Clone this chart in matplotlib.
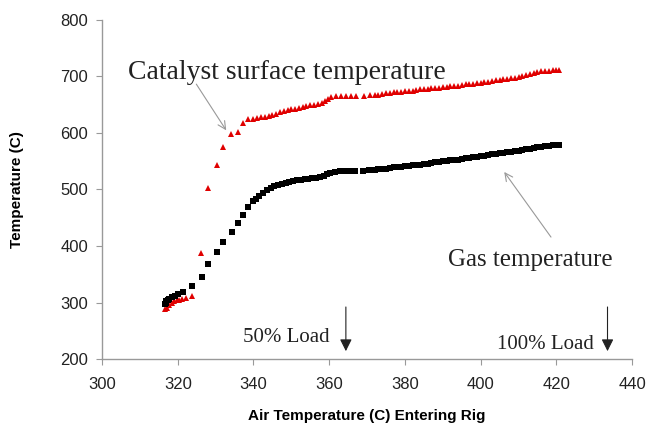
import matplotlib
matplotlib.use("Agg")
import matplotlib.pyplot as plt

# catalyst surface temperature (red triangles)
cat_x = [316.6, 317.1, 317.6, 318.4, 319.0, 319.7, 320.4, 321.0, 322.3, 323.7,
         326.1, 328.0, 330.3, 332.0, 334.0, 336.0, 337.3, 338.6, 339.9,
         341, 342, 343, 344, 345, 346, 347, 348, 349, 350, 351, 352, 353, 354,
         355, 356, 357, 358, 359, 359.7, 360.5,
         361.8, 363.1, 364.4, 365.7, 367.0, 369.2, 370.8,
         372, 373, 374, 375, 376, 377, 378, 379, 380, 381, 382, 383, 384, 385,
         386, 387, 388, 389, 390, 391, 392, 393, 394, 395, 396, 397, 398, 399,
         400, 401, 402, 403, 404, 405, 406, 407, 408, 409, 410, 411, 412, 413,
         414, 415, 416, 417, 418, 419, 420, 420.8]
cat_t = [288, 291, 295, 299, 302, 304, 305, 306, 308, 311,
         388, 503, 543, 576, 599, 602, 618, 625, 625,
         627, 628, 629, 630, 632, 634, 637, 639, 640, 642, 643, 645, 646, 647,
         649, 650, 651, 653, 656, 661, 664,
         665, 665, 665, 666, 666, 666, 667,
         668, 668, 669, 670, 671, 672, 673, 673, 674, 675, 675, 676, 677, 677,
         678, 679, 680, 680, 681, 682, 683, 683, 684, 685, 686, 686, 687, 688,
         689, 690, 691, 692, 693, 694, 695, 696, 697, 698, 699, 701, 703, 705,
         707, 708, 709, 709, 710, 711, 711, 712]

# gas temperature (black squares)
gas_x = [316.6, 316.8, 317.0, 317.3, 317.8, 318.4, 319.2, 320.0, 321.5, 323.7,
         326.3, 328.0, 330.3, 332.0, 334.2, 336.0, 337.3, 338.6, 339.8,
         340.6, 341.5, 342.5, 343.5, 344.5, 345.5, 346.5, 347.5, 348.5, 349.5,
         350.5, 351.5, 352.5, 353.5, 354.5, 355.5, 356.5, 357.5, 358.5, 359.5,
         360.3,
         361.6, 362.9, 364.2, 365.5, 366.8, 369.0, 370.6,
         372, 373, 374, 375, 376, 377, 378, 379, 380, 381, 382, 383, 384, 385,
         386, 387, 388, 389, 390, 391, 392, 393, 394, 395, 396, 397, 398, 399,
         400, 401, 402, 403, 404, 405, 406, 407, 408, 409, 410, 411, 412, 413,
         414, 415, 416, 417, 418, 419, 420, 420.8]
gas_t = [297, 300, 302, 305, 307, 309, 312, 315, 319, 329,
         346, 369, 389, 407, 425, 441, 454, 469, 479,
         484, 489, 494, 499, 503, 506, 508, 510, 512, 514,
         515, 516, 517, 518, 519, 520, 521, 522, 524, 527,
         529,
         531, 532, 532, 533, 533, 533, 534,
         535, 536, 537, 537, 538, 539, 539, 540, 541, 542, 543, 544, 544, 545,
         546, 547, 548, 549, 550, 551, 552, 552, 553, 554, 555, 556, 557, 558,
         559, 560, 561, 562, 563, 564, 565, 566, 567, 568, 569, 570, 571, 572,
         574, 575, 576, 577, 577, 578, 578, 579]

load_x = [364.4, 433.5]
load_labels = ["50% Load", "100% Load"]

fig = plt.figure(figsize=(6.47, 4.44), dpi=100)
ax = fig.add_axes([0.1577, 0.1914, 0.8193, 0.7636])

ax.plot(cat_x, cat_t, linestyle="none", marker="^", markersize=5.0,
        color="#e00000", markeredgewidth=0)
ax.plot(gas_x, gas_t, linestyle="none", marker="s", markersize=4.6,
        color="black", markeredgewidth=0)

ax.set_xlim(300, 440)
ax.set_ylim(200, 800)
ax.set_xticks(range(300, 441, 20))
ax.set_yticks(range(200, 801, 100))

for s in ["top", "right"]:
    ax.spines[s].set_visible(False)
for s in ["left", "bottom"]:
    ax.spines[s].set_color("#999999")
    ax.spines[s].set_linewidth(1.0)
ax.tick_params(colors="#999999", labelcolor="#222222", length=4,
               labelsize=12, pad=6)
ax.tick_params(axis="x", pad=9)
for lab in ax.get_xticklabels() + ax.get_yticklabels():
    lab.set_family("Liberation Sans")

ax.set_xlabel("Air Temperature (C) Entering Rig", family="Liberation Sans",
              fontweight="bold", fontsize=11, labelpad=12)
ax.set_ylabel("Temperature (C)", family="Liberation Sans",
              fontweight="bold", fontsize=11, labelpad=26)

serif = "Liberation Serif"
ax.text(306.9, 695.4, "Catalyst surface temperature", family=serif,
        fontsize=20, color="#222222", va="baseline", ha="left")
ax.annotate("", xy=(333.2, 600.6), xytext=(324.5, 690.6),
            arrowprops=dict(arrowstyle="->", color="#999999", lw=0.8,
                            mutation_scale=14))

ax.text(391.3, 364.7, "Gas temperature", family=serif, fontsize=18,
        color="#222222", va="baseline", ha="left")
ax.annotate("", xy=(405.8, 535), xytext=(419.0, 411.8),
            arrowprops=dict(arrowstyle="->", color="#999999", lw=0.8,
                            mutation_scale=14))

ax.text(337.2, 230, load_labels[0], family=serif, fontsize=15,
        color="#222222", va="baseline", ha="left")
ax.text(404.2, 218, load_labels[1], family=serif, fontsize=15,
        color="#222222", va="baseline", ha="left")
for lx in load_x:
    ax.annotate("", xy=(lx, 209), xytext=(lx, 297),
                arrowprops=dict(arrowstyle="-|>", color="#222222", lw=0.8,
                                mutation_scale=18))

fig.savefig("out.png", dpi=100)
